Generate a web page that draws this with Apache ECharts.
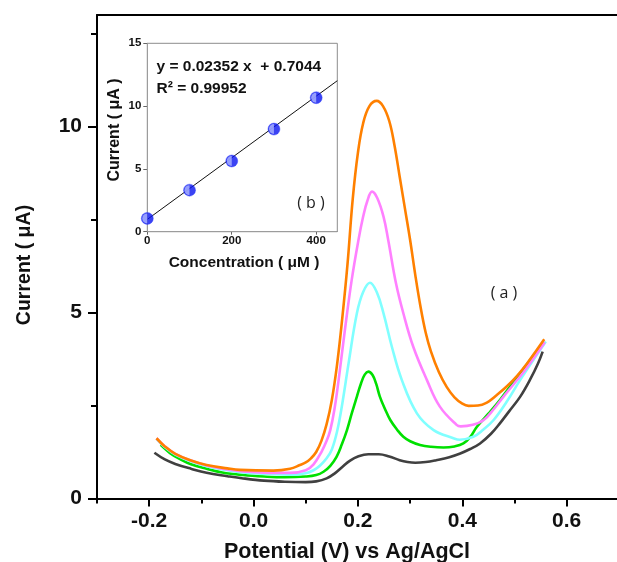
<!DOCTYPE html>
<html>
<head>
<meta charset="utf-8">
<script src="https://cdn.jsdelivr.net/npm/echarts/dist/echarts.min.js"></script>
<style>
  html, body { margin: 0; padding: 0; background: #fff; }
  #chart { width: 617px; height: 562px; }
</style>
</head>
<body>
<div id="chart"></div>
<script>
// Voltammograms: [potential (V), current (µA)] for each concentration
const curve0uM = [
  [-0.19, 1.23], [-0.17, 1.05], [-0.15, 0.93], [-0.12, 0.80], [-0.09, 0.69],
  [-0.05, 0.60], [-0.02, 0.54], [0.02, 0.48], [0.06, 0.45], [0.10, 0.44],
  [0.12, 0.46], [0.14, 0.54], [0.155, 0.67], [0.17, 0.85], [0.185, 1.02],
  [0.20, 1.13], [0.22, 1.19], [0.24, 1.19], [0.26, 1.13], [0.28, 1.03],
  [0.295, 0.98], [0.31, 0.96], [0.33, 0.98], [0.35, 1.03], [0.375, 1.11],
  [0.396, 1.21], [0.415, 1.33], [0.434, 1.48], [0.455, 1.74], [0.472, 2.02],
  [0.49, 2.35], [0.511, 2.74], [0.53, 3.20], [0.545, 3.63], [0.554, 3.95]
];
const curve100uM = [
  [-0.178, 1.44], [-0.16, 1.22], [-0.14, 1.05], [-0.12, 0.92], [-0.09, 0.80],
  [-0.06, 0.70], [-0.02, 0.63], [0.02, 0.59], [0.06, 0.57], [0.10, 0.59],
  [0.12, 0.63], [0.134, 0.72], [0.147, 0.88], [0.159, 1.12], [0.169, 1.45],
  [0.179, 1.84], [0.188, 2.28], [0.198, 2.74], [0.206, 3.10], [0.213, 3.33],
  [0.220, 3.41], [0.228, 3.32], [0.235, 3.08], [0.242, 2.74], [0.252, 2.40],
  [0.262, 2.11], [0.275, 1.85], [0.287, 1.66], [0.30, 1.54], [0.319, 1.44],
  [0.34, 1.39], [0.364, 1.37], [0.385, 1.40], [0.402, 1.48], [0.415, 1.65],
  [0.428, 1.93], [0.45, 2.28], [0.472, 2.65], [0.511, 3.37], [0.554, 4.17]
];
const curve200uM = [
  [-0.186, 1.60], [-0.17, 1.38], [-0.15, 1.18], [-0.12, 1.00], [-0.09, 0.87],
  [-0.05, 0.76], [-0.02, 0.70], [0.03, 0.66], [0.07, 0.64], [0.10, 0.68],
  [0.115, 0.76], [0.127, 0.88], [0.14, 1.08], [0.15, 1.32], [0.16, 1.80],
  [0.17, 2.55], [0.182, 3.63], [0.198, 4.98], [0.21, 5.55], [0.223, 5.80],
  [0.236, 5.55], [0.249, 4.98], [0.265, 4.08], [0.284, 3.19], [0.313, 2.29],
  [0.345, 1.84], [0.383, 1.62], [0.395, 1.58], [0.421, 1.66], [0.44, 1.85],
  [0.46, 2.11], [0.485, 2.60], [0.511, 3.19], [0.560, 4.22]
];
const curve300uM = [
  [-0.186, 1.62], [-0.17, 1.40], [-0.15, 1.20], [-0.12, 1.02], [-0.09, 0.89],
  [-0.05, 0.78], [-0.02, 0.73], [0.03, 0.69], [0.07, 0.69], [0.10, 0.76],
  [0.115, 0.92], [0.13, 1.25], [0.14, 1.55], [0.147, 1.84], [0.155, 2.40],
  [0.163, 3.19], [0.175, 4.53], [0.188, 5.87], [0.201, 6.95], [0.21, 7.58],
  [0.218, 8.00], [0.227, 8.25], [0.237, 8.08], [0.249, 7.58], [0.258, 6.95],
  [0.273, 5.78], [0.287, 4.98], [0.306, 4.08], [0.332, 3.19], [0.357, 2.47],
  [0.389, 1.98], [0.397, 1.94], [0.42, 1.98], [0.441, 2.11], [0.46, 2.40],
  [0.479, 2.74], [0.50, 3.10], [0.52, 3.45], [0.558, 4.20]
];
const curve400uM = [
  [-0.186, 1.62], [-0.17, 1.40], [-0.15, 1.20], [-0.12, 1.02], [-0.09, 0.90],
  [-0.05, 0.81], [-0.026, 0.77], [0.038, 0.75], [0.07, 0.80], [0.089, 0.90],
  [0.10, 0.97], [0.11, 1.08], [0.12, 1.25], [0.13, 1.55], [0.14, 2.00],
  [0.15, 2.65], [0.16, 3.60], [0.17, 4.85], [0.18, 6.30], [0.19, 8.05],
  [0.20, 9.30], [0.21, 10.09], [0.222, 10.55], [0.236, 10.69], [0.248, 10.55],
  [0.26, 10.15], [0.27, 9.50], [0.28, 8.65], [0.29, 7.80], [0.30, 6.95],
  [0.31, 6.00], [0.32, 5.15], [0.33, 4.45], [0.34, 3.95], [0.355, 3.40],
  [0.37, 3.00], [0.385, 2.72], [0.40, 2.55], [0.412, 2.49], [0.43, 2.50],
  [0.447, 2.58], [0.465, 2.77], [0.485, 3.01], [0.505, 3.30], [0.524, 3.63],
  [0.557, 4.28]
];
const curveColors = ['#404040', '#00e000', '#80ffff', '#ff80ff', '#ff8000'];

// Calibration inset
const concentration = [0, 100, 200, 300, 400];
const peakCurrent = [1.06, 3.31, 5.63, 8.17, 10.67];
const fitConcentration = [0, 450];
const fitCurrent = [0.98, 12.02];

// Tick positions
const xMajorTicks = [-0.2, 0, 0.2, 0.4, 0.6];
const xMinorTicks = [-0.3, -0.1, 0.1, 0.3, 0.5];
const yMajorTicks = [0, 5, 10];
const yMinorTicks = [2.5, 7.5, 12.5];
const insetXTicks = [0, 200, 400];
const insetYTicks = [0, 5, 10, 15];

const FONT = '"Liberation Sans", Arial, sans-serif';
const chart = echarts.init(document.getElementById('chart'), null, { renderer: 'canvas' });

const mainCurves = [curve0uM, curve100uM, curve200uM, curve300uM, curve400uM];
const X_MIN = -0.3, X_MAX = 0.6964;

const option = {
  animation: false,
  backgroundColor: '#fff',
  grid: [
    { left: 97, top: 15, width: 520, height: 483.5, show: false },
    { left: 147.3, top: 43.3, width: 190, height: 188.4, show: true, borderColor: '#8c8c8c', borderWidth: 1, backgroundColor: '#fff', z: 5 }
  ],
  xAxis: [
    {
      type: 'value', gridIndex: 0, position: 'bottom', min: X_MIN, max: X_MAX,
      axisLine: { show: true, onZero: false, lineStyle: { color: '#000', width: 2 } },
      axisTick: { show: true, customValues: xMajorTicks, length: 8, lineStyle: { color: '#000', width: 2 } },
      axisLabel: { customValues: xMajorTicks, formatter: v => v.toFixed(1), fontFamily: FONT, fontWeight: 'bold', fontSize: 21, color: '#111', margin: 12 },
      splitLine: { show: false }
    },
    {
      type: 'value', gridIndex: 0, position: 'bottom', min: X_MIN, max: X_MAX,
      axisLine: { show: false, onZero: false },
      axisTick: { show: true, customValues: xMinorTicks, length: 5, lineStyle: { color: '#000', width: 2 } },
      axisLabel: { show: false },
      splitLine: { show: false }
    },
    {
      // top frame line
      type: 'value', gridIndex: 0, position: 'top', min: X_MIN, max: X_MAX,
      axisLine: { show: true, onZero: false, lineStyle: { color: '#000', width: 2 } },
      axisTick: { show: false }, axisLabel: { show: false }, splitLine: { show: false }
    },
    {
      type: 'value', gridIndex: 1, position: 'bottom', min: 0, max: 450,
      axisLine: { show: true, onZero: false, lineStyle: { color: '#8c8c8c', width: 1 } },
      axisTick: { show: true, customValues: insetXTicks, length: 3, lineStyle: { color: '#666', width: 1 } },
      axisLabel: { customValues: insetXTicks, fontFamily: FONT, fontWeight: 'bold', fontSize: 11.5, color: '#111', margin: 3 },
      splitLine: { show: false }
    }
  ],
  yAxis: [
    {
      type: 'value', gridIndex: 0, position: 'left', min: 0, max: 13,
      axisLine: { show: true, onZero: false, lineStyle: { color: '#000', width: 2 } },
      axisTick: { show: true, customValues: yMajorTicks, length: 9, lineStyle: { color: '#000', width: 2 } },
      axisLabel: { customValues: yMajorTicks, fontFamily: FONT, fontWeight: 'bold', fontSize: 21, color: '#111', margin: 15 },
      splitLine: { show: false }
    },
    {
      type: 'value', gridIndex: 0, position: 'left', min: 0, max: 13,
      axisLine: { show: false, onZero: false },
      axisTick: { show: true, customValues: yMinorTicks, length: 6, lineStyle: { color: '#000', width: 2 } },
      axisLabel: { show: false },
      splitLine: { show: false }
    },
    {
      type: 'value', gridIndex: 1, position: 'left', min: 0, max: 15,
      axisLine: { show: true, onZero: false, lineStyle: { color: '#8c8c8c', width: 1 } },
      axisTick: { show: true, customValues: insetYTicks, length: 4, lineStyle: { color: '#666', width: 1 } },
      axisLabel: { customValues: insetYTicks, fontFamily: FONT, fontWeight: 'bold', fontSize: 11.5, color: '#111', margin: 6 },
      splitLine: { show: false }
    }
  ],
  series: [
    ...mainCurves.map((curve, i) => ({
      type: 'line', xAxisIndex: 0, yAxisIndex: 0,
      data: curve, showSymbol: false, smooth: 0.4, clip: true,
      lineStyle: { color: curveColors[i], width: 2.6, join: 'round' },
      z: 2 + i
    })),
    {
      type: 'line', xAxisIndex: 3, yAxisIndex: 2, z: 6,
      data: fitConcentration.map((c, i) => [c, fitCurrent[i]]),
      showSymbol: false, lineStyle: { color: '#111', width: 1 }
    },
    {
      type: 'scatter', xAxisIndex: 3, yAxisIndex: 2, z: 7,
      data: concentration.map((c, i) => [c, peakCurrent[i]]),
      symbol: 'circle', symbolSize: 12,
      itemStyle: { color: '#0a14f0', borderColor: '#3040ff', borderWidth: 0.5 }
    },
    {
      // lighter left half of each marker
      type: 'scatter', xAxisIndex: 3, yAxisIndex: 2, z: 8,
      data: concentration.map((c, i) => [c, peakCurrent[i]]),
      symbol: 'path://M0,-1A1,1 0 0,0 0,1Z', symbolSize: [5, 10], symbolOffset: [-2.5, 0],
      itemStyle: { color: '#aeb6ff' }
    }
  ],
  graphic: [
    { type: 'text', x: 25, y: 265, rotation: Math.PI / 2,
      style: { text: 'Current ( \u03bcA)', font: 'bold 19.5px ' + FONT, fill: '#111', align: 'center', verticalAlign: 'middle' } },
    { type: 'text', x: 347, y: 552,
      style: { text: 'Potential (V) vs Ag/AgCl', font: 'bold 21.5px ' + FONT, fill: '#111', align: 'center', verticalAlign: 'middle' } },
    { type: 'text', x: 504, y: 293,
      style: { text: '( a )', font: '16px "Open Sans", sans-serif', fill: '#222', align: 'center', verticalAlign: 'middle' } },
    { type: 'text', x: 311, y: 203, z: 20,
      style: { text: '( b )', font: '16px "Open Sans", sans-serif', fill: '#222', align: 'center', verticalAlign: 'middle' } },
    { type: 'text', x: 156.5, y: 67, z: 20,
      style: { text: 'y = 0.02352 x  + 0.7044', font: 'bold 15.5px ' + FONT, fill: '#111', align: 'left', verticalAlign: 'middle' } },
    { type: 'text', x: 156.5, y: 89, z: 20,
      style: { text: 'R\u00b2 = 0.99952', font: 'bold 15.5px ' + FONT, fill: '#111', align: 'left', verticalAlign: 'middle' } },
    { type: 'text', x: 244, y: 263, z: 20,
      style: { text: 'Concentration ( \u03bcM )', font: 'bold 15.5px ' + FONT, fill: '#111', align: 'center', verticalAlign: 'middle' } },
    { type: 'text', x: 115, y: 130, z: 20, rotation: Math.PI / 2,
      style: { text: 'Current ( \u03bcA )', font: 'bold 16px ' + FONT, fill: '#111', align: 'center', verticalAlign: 'middle' } }
  ]
};

chart.setOption(option);
</script>
</body>
</html>
